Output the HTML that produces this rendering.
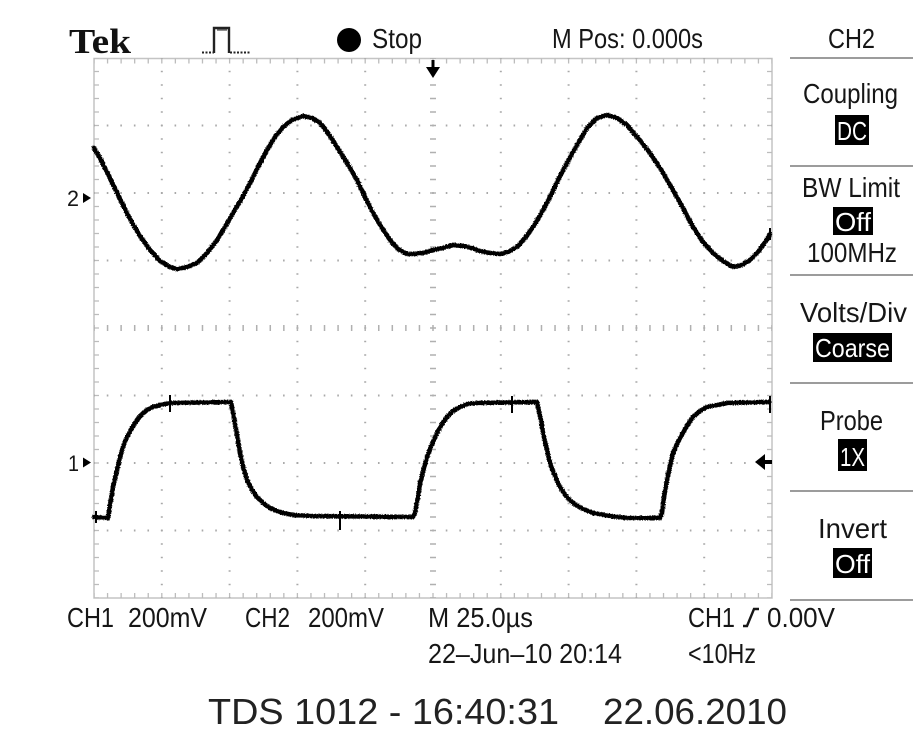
<!DOCTYPE html>
<html>
<head>
<meta charset="utf-8">
<style>
  html,body{margin:0;padding:0;background:#fff;}
  svg{display:block;}
  text{font-family:"Liberation Sans",sans-serif;fill:#161616;}
</style>
</head>
<body>
<svg width="918" height="738" viewBox="0 0 918 738" xmlns="http://www.w3.org/2000/svg">
  <defs>
    <filter id="rough" x="-5%" y="-5%" width="110%" height="110%">
      <feTurbulence type="fractalNoise" baseFrequency="0.9" numOctaves="1" seed="3" result="n"/>
      <feDisplacementMap in="SourceGraphic" in2="n" scale="3" xChannelSelector="R" yChannelSelector="G"/>
    </filter>
  </defs>
  <rect x="0" y="0" width="918" height="738" fill="#fff"/>

  <!-- ===== Graticule ===== -->
  <g fill="none">
    <rect x="94" y="58.5" width="678" height="539.5" stroke="#c4c4c4" stroke-width="1.5"/>
    <line x1="94" y1="61" x2="772" y2="61" stroke="#bcbcbc" stroke-width="5" stroke-dasharray="1.3 12.26" stroke-dashoffset="0.65"/>
    <line x1="94" y1="595.5" x2="772" y2="595.5" stroke="#bcbcbc" stroke-width="5" stroke-dasharray="1.3 12.26" stroke-dashoffset="0.65"/>
    <line x1="96.5" y1="58" x2="96.5" y2="598" stroke="#bcbcbc" stroke-width="5" stroke-dasharray="1.3 12.2" stroke-dashoffset="0.65"/>
    <line x1="769.5" y1="58" x2="769.5" y2="598" stroke="#bcbcbc" stroke-width="5" stroke-dasharray="1.3 12.2" stroke-dashoffset="0.65"/>

    <g stroke="#a9a9a9" stroke-width="2" stroke-dasharray="1.6 11.9" stroke-dashoffset="0.8">
      <line x1="161.8" y1="58" x2="161.8" y2="598"/>
      <line x1="229.6" y1="58" x2="229.6" y2="598"/>
      <line x1="297.4" y1="58" x2="297.4" y2="598"/>
      <line x1="365.2" y1="58" x2="365.2" y2="598"/>
      <line x1="500.8" y1="58" x2="500.8" y2="598"/>
      <line x1="568.6" y1="58" x2="568.6" y2="598"/>
      <line x1="636.4" y1="58" x2="636.4" y2="598"/>
      <line x1="704.2" y1="58" x2="704.2" y2="598"/>
    </g>
    <g stroke="#a9a9a9" stroke-width="2" stroke-dasharray="1.6 11.96" stroke-dashoffset="0.8">
      <line x1="94" y1="125.5" x2="772" y2="125.5"/>
      <line x1="94" y1="193" x2="772" y2="193"/>
      <line x1="94" y1="260.5" x2="772" y2="260.5"/>
      <line x1="94" y1="395.5" x2="772" y2="395.5"/>
      <line x1="94" y1="463" x2="772" y2="463"/>
      <line x1="94" y1="530.5" x2="772" y2="530.5"/>
    </g>
    <line x1="94" y1="328" x2="772" y2="328" stroke="#b0b0b0" stroke-width="6" stroke-dasharray="1.5 12.06" stroke-dashoffset="0.75"/>
    <line x1="433" y1="58" x2="433" y2="598" stroke="#b0b0b0" stroke-width="6" stroke-dasharray="1.5 12" stroke-dashoffset="0.75"/>
  </g>

  <!-- ===== Traces ===== -->
  <g fill="none" stroke="#000" stroke-width="4.6" stroke-linejoin="round" stroke-linecap="round" filter="url(#rough)">
    <polyline points="94,148 100,158 110,178 120,199 130,219 140,236 150,250 160,261 170,267 177,269 187,267 197,263 207,253 217,240 225,227 233,213 242,198 250,183 258,167 267,150 275,137 283,127 292,120 303,116 312,118 320,123 328,133 337,147 347,163 357,180 365,197 373,213 382,228 390,240 398,249 407,254 415,254 423,253 433,250 443,248 453,245 463,246 472,248 480,251 490,253 500,254 508,252 517,247 525,238 533,227 542,212 550,197 558,180 567,163 577,145 587,128 597,118 607,115 617,118 627,125 638,138 650,153 662,171 673,190 683,208 693,227 703,242 713,253 723,261 733,267 742,265 750,260 758,252 766,241 770,234"/>
    <polyline points="94,517 108,518 110,505 113,487 117,470 120,457 124,444 127,437 132,428 137,420 142,414 147,410 153,407 160,405 170,403 231,402 233,413 237,435 240,453 244,470 247,480 252,490 257,497 263,503 270,508 277,511 283,513 293,515 313,516 413,517 415,513 418,497 420,483 424,468 427,457 432,444 437,433 442,424 447,417 453,411 460,407 468,404 477,403 537,402 538,407 541,420 543,433 547,450 550,463 555,476 560,487 566,496 573,503 583,509 593,513 610,516 627,518 660,518 662,513 664,497 667,480 670,466 673,453 678,442 683,433 688,424 693,417 700,411 707,407 717,405 727,403 769,402"/>
  </g>
  <g stroke="#000" stroke-width="2" fill="none">
    <line x1="170" y1="395" x2="170" y2="412"/>
    <line x1="340" y1="511" x2="340" y2="530"/>
    <line x1="512" y1="396" x2="512" y2="413"/>
    <line x1="770" y1="396" x2="770" y2="413"/>
    <line x1="96" y1="511" x2="96" y2="523"/>
    <line x1="770" y1="228" x2="770" y2="240"/>
  </g>

  <!-- ===== Markers ===== -->
  <text x="67" y="206" font-size="22" textLength="12" lengthAdjust="spacingAndGlyphs">2</text>
  <path d="M83 193 L91 198 L83 203 Z" fill="#000"/>
  <text x="68" y="471" font-size="22" textLength="11" lengthAdjust="spacingAndGlyphs">1</text>
  <path d="M83 457.5 L91 462.5 L83 467.5 Z" fill="#000"/>
  <path d="M755 462 L765 454 L765 470 Z" fill="#000"/>
  <rect x="764" y="460" width="8" height="4" fill="#000"/>
  <rect x="431.5" y="60" width="3" height="9" fill="#000"/>
  <path d="M426 67 L440 67 L433 78 Z" fill="#000"/>

  <!-- ===== Header ===== -->
  <text x="69" y="53" font-weight="bold" font-size="35" textLength="62" lengthAdjust="spacingAndGlyphs" style="font-family:'Liberation Serif',serif;fill:#111">Tek</text>
  <g fill="none" stroke="#222">
    <path d="M202 52.5 H214" stroke-width="2" stroke-dasharray="2 1.5"/>
    <path d="M214 53 V28 H229 V53" stroke-width="2.4"/>
    <path d="M217 30 H227" stroke-width="1"/>
    <path d="M230 52.5 H250" stroke-width="2" stroke-dasharray="2 1.5"/>
  </g>
  <circle cx="349" cy="40" r="12" fill="#000"/>
  <text x="372" y="48" font-size="28" textLength="50" lengthAdjust="spacingAndGlyphs">Stop</text>
  <text x="552" y="48" font-size="28" textLength="151" lengthAdjust="spacingAndGlyphs">M Pos: 0.000s</text>
  <text x="828" y="48" font-size="28" textLength="47" lengthAdjust="spacingAndGlyphs">CH2</text>

  <!-- ===== Right menu ===== -->
  <g stroke="#9c9c9c" stroke-width="2">
    <line x1="790" y1="58" x2="913" y2="58"/>
    <line x1="790" y1="166" x2="913" y2="166"/>
    <line x1="790" y1="275" x2="913" y2="275"/>
    <line x1="790" y1="383" x2="913" y2="383"/>
    <line x1="790" y1="491" x2="913" y2="491"/>
    <line x1="790" y1="600" x2="913" y2="600"/>
  </g>

  <text x="803" y="103" font-size="28" textLength="95" lengthAdjust="spacingAndGlyphs">Coupling</text>
  <rect x="835" y="115" width="34" height="30" fill="#000"/>
  <text x="837" y="140" font-size="26" textLength="30" lengthAdjust="spacingAndGlyphs" style="fill:#fff">DC</text>

  <text x="802" y="197" font-size="28" textLength="98" lengthAdjust="spacingAndGlyphs">BW Limit</text>
  <rect x="833" y="207" width="40" height="28" fill="#000"/>
  <text x="835" y="231" font-size="26" textLength="36" lengthAdjust="spacingAndGlyphs" style="fill:#fff">Off</text>
  <text x="807" y="262" font-size="28" textLength="90" lengthAdjust="spacingAndGlyphs">100MHz</text>

  <text x="800" y="322" font-size="28" textLength="107" lengthAdjust="spacingAndGlyphs">Volts/Div</text>
  <rect x="813" y="333" width="79" height="29" fill="#000"/>
  <text x="815" y="357" font-size="26" textLength="75" lengthAdjust="spacingAndGlyphs" style="fill:#fff">Coarse</text>

  <text x="820" y="430" font-size="28" textLength="63" lengthAdjust="spacingAndGlyphs">Probe</text>
  <rect x="838" y="439" width="29" height="32" fill="#000"/>
  <text x="840" y="466" font-size="26" textLength="25" lengthAdjust="spacingAndGlyphs" style="fill:#fff">1X</text>

  <text x="818" y="538" font-size="28" textLength="69" lengthAdjust="spacingAndGlyphs">Invert</text>
  <rect x="833" y="548" width="39" height="30" fill="#000"/>
  <text x="835" y="573" font-size="26" textLength="35" lengthAdjust="spacingAndGlyphs" style="fill:#fff">Off</text>

  <!-- ===== Bottom status ===== -->
  <text x="67" y="627" font-size="28" textLength="47" lengthAdjust="spacingAndGlyphs">CH1</text>
  <text x="128" y="627" font-size="28" textLength="79" lengthAdjust="spacingAndGlyphs">200mV</text>
  <text x="245" y="627" font-size="28" textLength="45" lengthAdjust="spacingAndGlyphs">CH2</text>
  <text x="308" y="627" font-size="28" textLength="76" lengthAdjust="spacingAndGlyphs">200mV</text>
  <text x="428" y="627" font-size="28" textLength="105" lengthAdjust="spacingAndGlyphs">M 25.0µs</text>
  <text x="688" y="627" font-size="28" textLength="47" lengthAdjust="spacingAndGlyphs">CH1</text>
  <path d="M743 626 H747 L754 609 H759" fill="none" stroke="#161616" stroke-width="2.4"/>
  <text x="767" y="627" font-size="28" textLength="68" lengthAdjust="spacingAndGlyphs">0.00V</text>

  <text x="428" y="663" font-size="28" textLength="194" lengthAdjust="spacingAndGlyphs">22–Jun–10 20:14</text>
  <text x="688" y="663" font-size="28" textLength="68" lengthAdjust="spacingAndGlyphs">&lt;10Hz</text>

  <text x="208" y="724" font-size="36" textLength="351" lengthAdjust="spacingAndGlyphs" style="fill:#222">TDS 1012 - 16:40:31</text>
  <text x="603" y="724" font-size="36" textLength="184" lengthAdjust="spacingAndGlyphs" style="fill:#222">22.06.2010</text>
</svg>
</body>
</html>
